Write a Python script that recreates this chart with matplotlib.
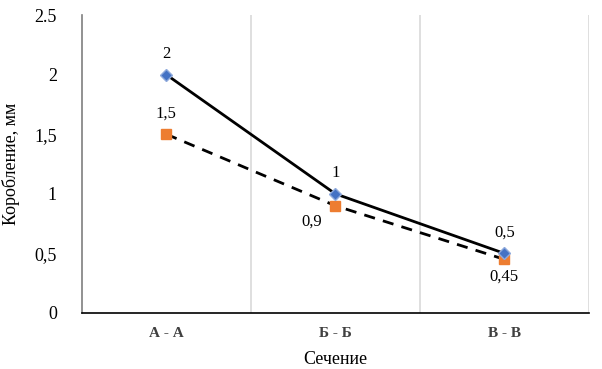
import matplotlib
matplotlib.use('Agg')
import matplotlib.pyplot as plt

categories = ['А - А', 'Б - Б', 'В - В']
s1 = [2, 1, 0.5]
s2 = [1.5, 0.9, 0.45]
s1_labels = ['2', '1', '0,5']
s2_labels = ['1,5', '0,9', '0,45']
yticks = [0, 0.5, 1, 1.5, 2, 2.5]
ytick_labels = ['0', '0,5', '1', '1,5', '2', '2.5']

plt.rcParams['font.family'] = ['Liberation Serif', 'DejaVu Serif']

def main():
    fig = plt.figure(figsize=(6.02, 3.69), dpi=100)
    ax = fig.add_axes([0.136, 0.152, 0.842, 0.807])
    x = list(range(len(categories)))

    ax.plot(x, s2, color='black', lw=2, ls=(0, (4, 3)), zorder=3)
    ax.plot(x, s2, ls='none', marker='s', ms=7, color='#ED7D31', zorder=4)
    ax.plot(x, s1, color='black', lw=2, zorder=5)
    ax.plot(x, s1, ls='none', marker='D', ms=6, color='#4472C4',
            mec='#8FAADC', mew=1, zorder=6)

    # labels
    for i, (v, t) in enumerate(zip(s1, s1_labels)):
        ax.annotate(t, (i, v), xytext=(0, 9), textcoords='offset points',
                    ha='center', va='bottom', fontsize=12)
    offs = [(0, 9, 'bottom'), (-17, -6, 'top'), (0, -7, 'top')]
    for i, (v, t) in enumerate(zip(s2, s2_labels)):
        dx, dy, va = offs[i]
        ax.annotate(t, (i, v), xytext=(dx, dy), textcoords='offset points',
                    ha='center', va=va, fontsize=12)

    ax.set_xlim(-0.5, 2.5)
    ax.set_ylim(0, 2.5)
    ax.set_xticks(x)
    ax.set_xticklabels(categories, fontweight='bold', fontsize=11, color='#404040')
    ax.set_xticks([0.5, 1.5, 2.5], minor=True)
    ax.grid(axis='x', which='minor', color='#d9d9d9', lw=1.2)
    ax.tick_params(axis='x', which='both', length=0, pad=10)
    ax.set_yticks(yticks)
    ax.set_yticklabels(ytick_labels, fontsize=13)
    ax.tick_params(axis='y', length=0, pad=18)

    ax.spines['top'].set_visible(False)
    ax.spines['right'].set_visible(False)
    ax.spines['left'].set_color('#7f7f7f')
    ax.spines['left'].set_linewidth(1.2)
    ax.spines['bottom'].set_color('black')
    ax.spines['bottom'].set_linewidth(1.2)
    ax.spines['bottom'].set_bounds(-0.5, 2.5)

    ax.set_xlabel('Сечение', fontsize=13, labelpad=8)
    ax.set_ylabel('Коробление, мм', fontsize=13, labelpad=10)

    plt.savefig('out.png', dpi=100)

if __name__ == '__main__':
    main()
